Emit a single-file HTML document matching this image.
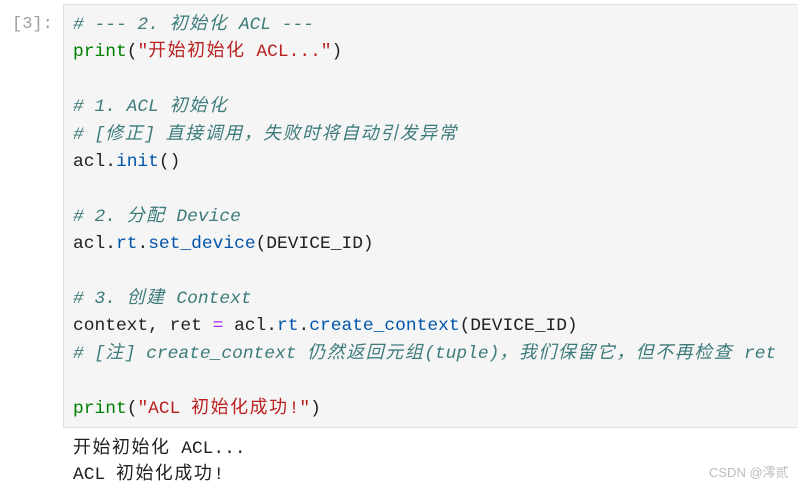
<!DOCTYPE html>
<html><head><meta charset="utf-8"><style>
body{margin:0;width:798px;height:486px;background:#fff;overflow:hidden;position:relative;font-family:"Liberation Mono","Noto Sans CJK SC",monospace;}
.p{position:absolute;left:12px;top:15px;color:#9e9e9e;font-size:17px;}
.box{position:absolute;left:63px;top:4px;width:760px;height:422px;background:#f5f5f5;border:1px solid #e0e0e0;}
.code{position:absolute;left:73px;top:12px;font-size:17.9px;line-height:27.4px;white-space:pre;color:#212121;}
.c{color:#3d7b7b;font-style:italic}
.k{color:#008000}
.s{color:#ba2121}
.f{color:#0055aa}
.o{color:#aa22ff}
.z{letter-spacing:1.6px}
.out{position:absolute;left:73px;top:436px;font-size:17.9px;line-height:26px;white-space:pre;color:#212121;}
.wm{position:absolute;left:709px;top:462px;font-family:"Liberation Sans","Noto Sans CJK SC",sans-serif;font-size:13px;color:#bbb;}
</style></head><body>
<div class="p">[3]:</div>
<div class="box"></div>
<div class="code"><span class="c"># --- 2. <span class="z">初始化</span> ACL ---</span>
<span class="k">print</span>(<span class="s">"<span class="z">开始初始化</span> ACL..."</span>)

<span class="c"># 1. ACL <span class="z">初始化</span></span>
<span class="c"># [<span class="z">修正</span>] <span class="z">直接调用，失败时将自动引发异常</span></span>
acl.<span class="f">init</span>()

<span class="c"># 2. <span class="z">分配</span> Device</span>
acl.<span class="f">rt</span>.<span class="f">set_device</span>(DEVICE_ID)

<span class="c"># 3. <span class="z">创建</span> Context</span>
context, ret <span class="o">=</span> acl.<span class="f">rt</span>.<span class="f">create_context</span>(DEVICE_ID)
<span class="c"># [<span class="z">注</span>] create_context <span class="z">仍然返回元组</span>(tuple)<span class="z">，我们保留它，但不再检查</span> ret</span>

<span class="k">print</span>(<span class="s">"ACL <span class="z">初始化成功</span>!"</span>)</div>
<div class="out"><span class="z">开始初始化</span> ACL...
ACL <span class="z">初始化成功</span>!</div>
<div class="wm">CSDN @澪贰</div>
</body></html>
